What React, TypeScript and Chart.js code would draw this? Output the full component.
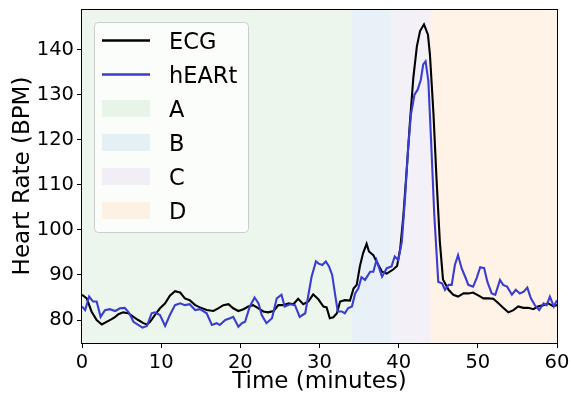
import React, { useEffect, useRef } from "react";
import { Chart, registerables } from "chart.js";

Chart.register(...registerables);

// ---- Data ----
const ecgTime = [0, 0.6, 1.2, 1.85, 2.5, 3.1, 3.75, 4.2, 4.6, 5.2, 5.85, 6.5, 7.1, 7.75, 8.2, 8.6, 9.2, 9.85, 10.5, 11.1, 11.75, 12.4, 13.0, 13.6, 14.3, 14.9, 15.75, 16.6, 17.2, 17.85, 18.5, 19.1, 19.75, 20.4, 21.0, 21.6, 22.3, 22.9, 23.5, 24.2, 24.8, 25.4, 26.1, 26.7, 27.3, 27.95, 28.6, 29.2, 29.85, 30.5, 30.9, 31.3, 31.75, 32.2, 32.6, 33.2, 33.85, 34.3, 34.7, 35.1, 35.5, 35.95, 36.25, 36.8, 37.2, 37.9, 38.5, 39.3, 39.8, 40.2, 40.6, 41.0, 41.4, 41.85, 42.3, 42.7, 43.2, 43.7, 43.95, 44.4, 44.8, 45.2, 45.6, 46.3, 46.9, 47.5, 48.2, 48.8, 49.4, 50.1, 50.7, 51.3, 51.95, 52.6, 53.2, 53.85, 54.5, 55.1, 55.75, 56.4, 57.0, 57.6, 58.3, 58.9, 59.5, 60];
const ecgHR = [85.6, 84.8, 81.9, 80.0, 79.0, 79.6, 80.2, 80.7, 81.3, 81.7, 81.5, 80.7, 80.0, 79.3, 79.0, 79.6, 81.1, 82.6, 83.7, 85.4, 86.4, 86.1, 84.8, 84.4, 83.3, 82.8, 82.2, 82.0, 82.6, 83.3, 83.5, 82.6, 82.0, 82.4, 83.0, 83.3, 82.6, 81.9, 81.7, 82.0, 83.3, 83.3, 83.7, 83.5, 84.7, 83.5, 84.1, 85.7, 84.6, 83.0, 82.8, 80.4, 80.6, 81.5, 84.1, 84.4, 84.3, 87.0, 87.8, 91.9, 94.8, 96.9, 95.2, 94.4, 93.0, 90.7, 90.3, 91.2, 92.0, 95.9, 103.3, 113.0, 123.3, 133.7, 140.7, 144.1, 145.6, 143.3, 138.9, 125.6, 110.7, 97.4, 89.0, 86.7, 85.6, 85.2, 85.9, 85.9, 86.1, 85.4, 84.8, 84.8, 84.7, 83.7, 82.7, 81.7, 82.2, 83.0, 82.7, 82.7, 82.4, 83.0, 83.3, 83.7, 83.1, 83.3];

const heartTime = [0, 0.4, 0.9, 1.4, 1.85, 2.35, 2.9, 3.5, 4.2, 4.8, 5.4, 5.9, 6.5, 7.1, 7.65, 8.2, 8.8, 9.2, 9.85, 10.5, 11.1, 11.75, 12.4, 13.0, 13.6, 14.3, 14.9, 15.75, 16.4, 17.0, 17.4, 18.1, 18.7, 19.1, 19.75, 20.2, 20.6, 21.2, 21.8, 22.3, 22.7, 23.3, 24.0, 24.6, 25.2, 25.6, 26.3, 26.9, 27.5, 28.2, 28.6, 29.0, 29.55, 29.9, 30.35, 30.8, 31.2, 31.6, 31.95, 32.3, 32.8, 33.2, 33.6, 34.1, 34.5, 34.9, 35.3, 35.75, 36.4, 36.8, 37.2, 37.9, 38.5, 39.1, 39.5, 39.95, 40.4, 40.8, 41.2, 41.55, 42.0, 42.4, 42.8, 43.1, 43.4, 43.75, 44.1, 44.5, 45.0, 45.5, 45.85, 46.3, 46.7, 47.1, 47.5, 47.95, 48.4, 48.8, 49.4, 49.85, 50.3, 50.8, 51.2, 51.75, 52.2, 52.8, 53.2, 53.7, 54.3, 54.8, 55.3, 55.8, 56.25, 56.7, 57.2, 57.75, 58.3, 58.7, 59.1, 59.6, 60];
const heartHR = [83.0, 82.2, 85.2, 84.1, 84.1, 80.7, 82.2, 82.4, 82.0, 82.6, 82.7, 81.7, 79.6, 78.9, 78.3, 78.7, 81.5, 81.7, 81.1, 78.7, 81.1, 83.3, 83.7, 83.3, 83.5, 82.2, 82.4, 81.5, 78.9, 79.3, 78.9, 80.0, 80.4, 80.7, 78.5, 79.3, 79.6, 83.0, 85.0, 83.7, 81.1, 79.3, 80.4, 84.8, 85.6, 83.0, 83.5, 83.3, 80.7, 81.5, 85.6, 89.6, 93.0, 92.5, 92.2, 93.0, 91.9, 90.0, 85.9, 81.9, 81.9, 81.5, 82.6, 83.0, 85.9, 87.0, 89.5, 88.9, 90.7, 90.7, 93.3, 89.6, 91.5, 91.9, 94.1, 93.3, 97.4, 107.0, 118.1, 125.6, 130.0, 131.1, 133.3, 136.7, 137.4, 133.0, 119.6, 103.3, 88.5, 88.1, 86.7, 87.8, 87.8, 92.2, 94.4, 91.5, 89.6, 87.8, 87.4, 89.3, 91.7, 91.5, 88.5, 85.9, 85.6, 88.9, 87.8, 87.4, 85.6, 86.7, 85.9, 86.3, 87.2, 84.8, 83.3, 82.2, 83.7, 83.3, 85.2, 83.0, 84.4];

const seriesNames = ["ECG", "hEARt"];
const regionLabels = ["A", "B", "C", "D"];
const regionStart = [0, 34, 39, 44];
const regionEnd = [34, 39, 44, 60];

const xTicks = [0, 10, 20, 30, 40, 50, 60];
const yTicks = [80, 90, 100, 110, 120, 130, 140];
const xRange = [0, 60];
const yRange = [74.9, 149];

const xTitle = "Time (minutes)";
const yTitle = "Heart Rate (BPM)";

// ---- Styles ----
const FONT = "'DejaVu Sans', sans-serif";
const lineColors = ["#000000", "#3a3dd2"];
const regionColors = [
  "rgba(44,160,44,0.09)",
  "rgba(31,119,180,0.1)",
  "rgba(148,103,189,0.1)",
  "rgba(255,127,14,0.1)",
];

const shadePlugin = {
  id: "shade",
  beforeDatasetsDraw(chart: any) {
    const { ctx, chartArea, scales } = chart;
    const x = scales.x;
    ctx.save();
    regionStart.forEach((s, i) => {
      const x0 = x.getPixelForValue(s);
      const x1 = x.getPixelForValue(regionEnd[i]);
      ctx.fillStyle = regionColors[i];
      ctx.fillRect(x0, chartArea.top, x1 - x0, chartArea.bottom - chartArea.top);
    });
    ctx.restore();
  },
};

const framePlugin = {
  id: "frame",
  afterDatasetsDraw(chart: any) {
    const { ctx, chartArea } = chart;
    ctx.save();
    ctx.strokeStyle = "#000";
    ctx.lineWidth = 1;
    const l = Math.round(chartArea.left) - 0.5;
    const t = Math.round(chartArea.top) + 0.5;
    const r = Math.round(chartArea.right) + 0.5;
    const b = Math.round(chartArea.bottom) + 0.5;
    ctx.strokeRect(l, t, r - l, b - t);
    ctx.restore();
  },
};

const legendPlugin = {
  id: "boxLegend",
  afterDraw(chart: any) {
    const { ctx, chartArea } = chart;
    const bx = chartArea.left + 12;
    const by = chartArea.top + 13;
    const bw = 154;
    const bh = 210;
    ctx.save();
    ctx.beginPath();
    ctx.roundRect(bx + 0.5, by + 0.5, bw, bh, 4);
    ctx.fillStyle = "rgba(255,255,255,0.8)";
    ctx.fill();
    ctx.strokeStyle = "#cccccc";
    ctx.lineWidth = 1;
    ctx.stroke();

    const fs = 22.5;
    ctx.font = `${fs}px ${FONT}`;
    ctx.textBaseline = "alphabetic";
    ctx.textAlign = "left";
    const items = [
      ...seriesNames.map((n, i) => ({ label: n, kind: "line", color: lineColors[i] })),
      ...regionLabels.map((n, i) => ({ label: n, kind: "patch", color: regionColors[i] })),
    ];
    const hx0 = bx + 8;
    const hx1 = bx + 56;
    const tx = bx + 75;
    items.forEach((it, i) => {
      const cy = by + 18.5 + i * 34;
      if (it.kind === "line") {
        ctx.strokeStyle = it.color;
        ctx.lineWidth = 2.5;
        ctx.beginPath();
        ctx.moveTo(hx0, cy);
        ctx.lineTo(hx1, cy);
        ctx.stroke();
      } else {
        ctx.fillStyle = it.color;
        ctx.fillRect(hx0, cy - 8.5, hx1 - hx0, 17);
      }
      ctx.fillStyle = "#000";
      ctx.fillText(it.label, tx, cy + 0.729 * fs / 2);
    });
    ctx.restore();
  },
};

export default function App() {
  const ref = useRef<HTMLCanvasElement>(null);

  useEffect(() => {
    if (!ref.current) return;
    const seriesT = [ecgTime, heartTime];
    const seriesV = [ecgHR, heartHR];
    const chart = new Chart(ref.current, {
      type: "line",
      data: {
        datasets: seriesNames.map((name, i) => ({
          label: name,
          data: seriesT[i].map((t, j) => ({ x: t, y: seriesV[i][j] })),
          borderColor: lineColors[i],
          backgroundColor: lineColors[i],
          borderWidth: 2.1,
          pointRadius: 0,
          tension: 0,
          fill: false,
          order: i === 0 ? 1 : 0,
        })),
      },
      options: {
        responsive: false,
        animation: false,
        layout: { padding: { left: 0, top: 9, right: 14, bottom: 0 } },
        plugins: {
          legend: { display: false },
          tooltip: { enabled: false },
        },
        scales: {
          x: {
            type: "linear",
            min: xRange[0],
            max: xRange[1],
            afterBuildTicks: (s: any) => {
              s.ticks = xTicks.map((v) => ({ value: v }));
            },
            afterFit: (s: any) => {
              s.height = 54;
              s.paddingLeft = 0;
              s.paddingRight = 0;
            },
            ticks: {
              font: { family: FONT, size: 19.5 },
              color: "#000",
              padding: 3,
              maxRotation: 0,
              autoSkip: false,
            },
            grid: {
              drawOnChartArea: false,
              drawTicks: true,
              tickLength: 5,
              color: "#000",
              lineWidth: 1,
            },
            border: { display: false },
            title: {
              display: true,
              text: xTitle,
              font: { family: FONT, size: 23 },
              color: "#000",
              padding: { top: 0, bottom: 1 },
            },
          },
          y: {
            type: "linear",
            min: yRange[0],
            max: yRange[1],
            afterBuildTicks: (s: any) => {
              s.ticks = yTicks.map((v) => ({ value: v }));
            },
            afterFit: (s: any) => {
              s.width = 82;
              s.paddingTop = 0;
              s.paddingBottom = 0;
            },
            ticks: {
              font: { family: FONT, size: 19.5 },
              color: "#000",
              padding: 3,
              autoSkip: false,
            },
            grid: {
              drawOnChartArea: false,
              drawTicks: true,
              tickLength: 5,
              color: "#000",
              lineWidth: 1,
            },
            border: { display: false },
            title: {
              display: true,
              text: yTitle,
              font: { family: FONT, size: 23 },
              color: "#000",
              padding: { top: 9, bottom: 0 },
            },
          },
        },
      },
      plugins: [shadePlugin, framePlugin, legendPlugin],
    });
    return () => chart.destroy();
  }, []);

  return (
    <div style={{ position: "fixed", left: 0, top: 0, width: 571, height: 397, background: "#fff" }}>
      <canvas ref={ref} width={571} height={397} style={{ display: "block" }} />
    </div>
  );
}
